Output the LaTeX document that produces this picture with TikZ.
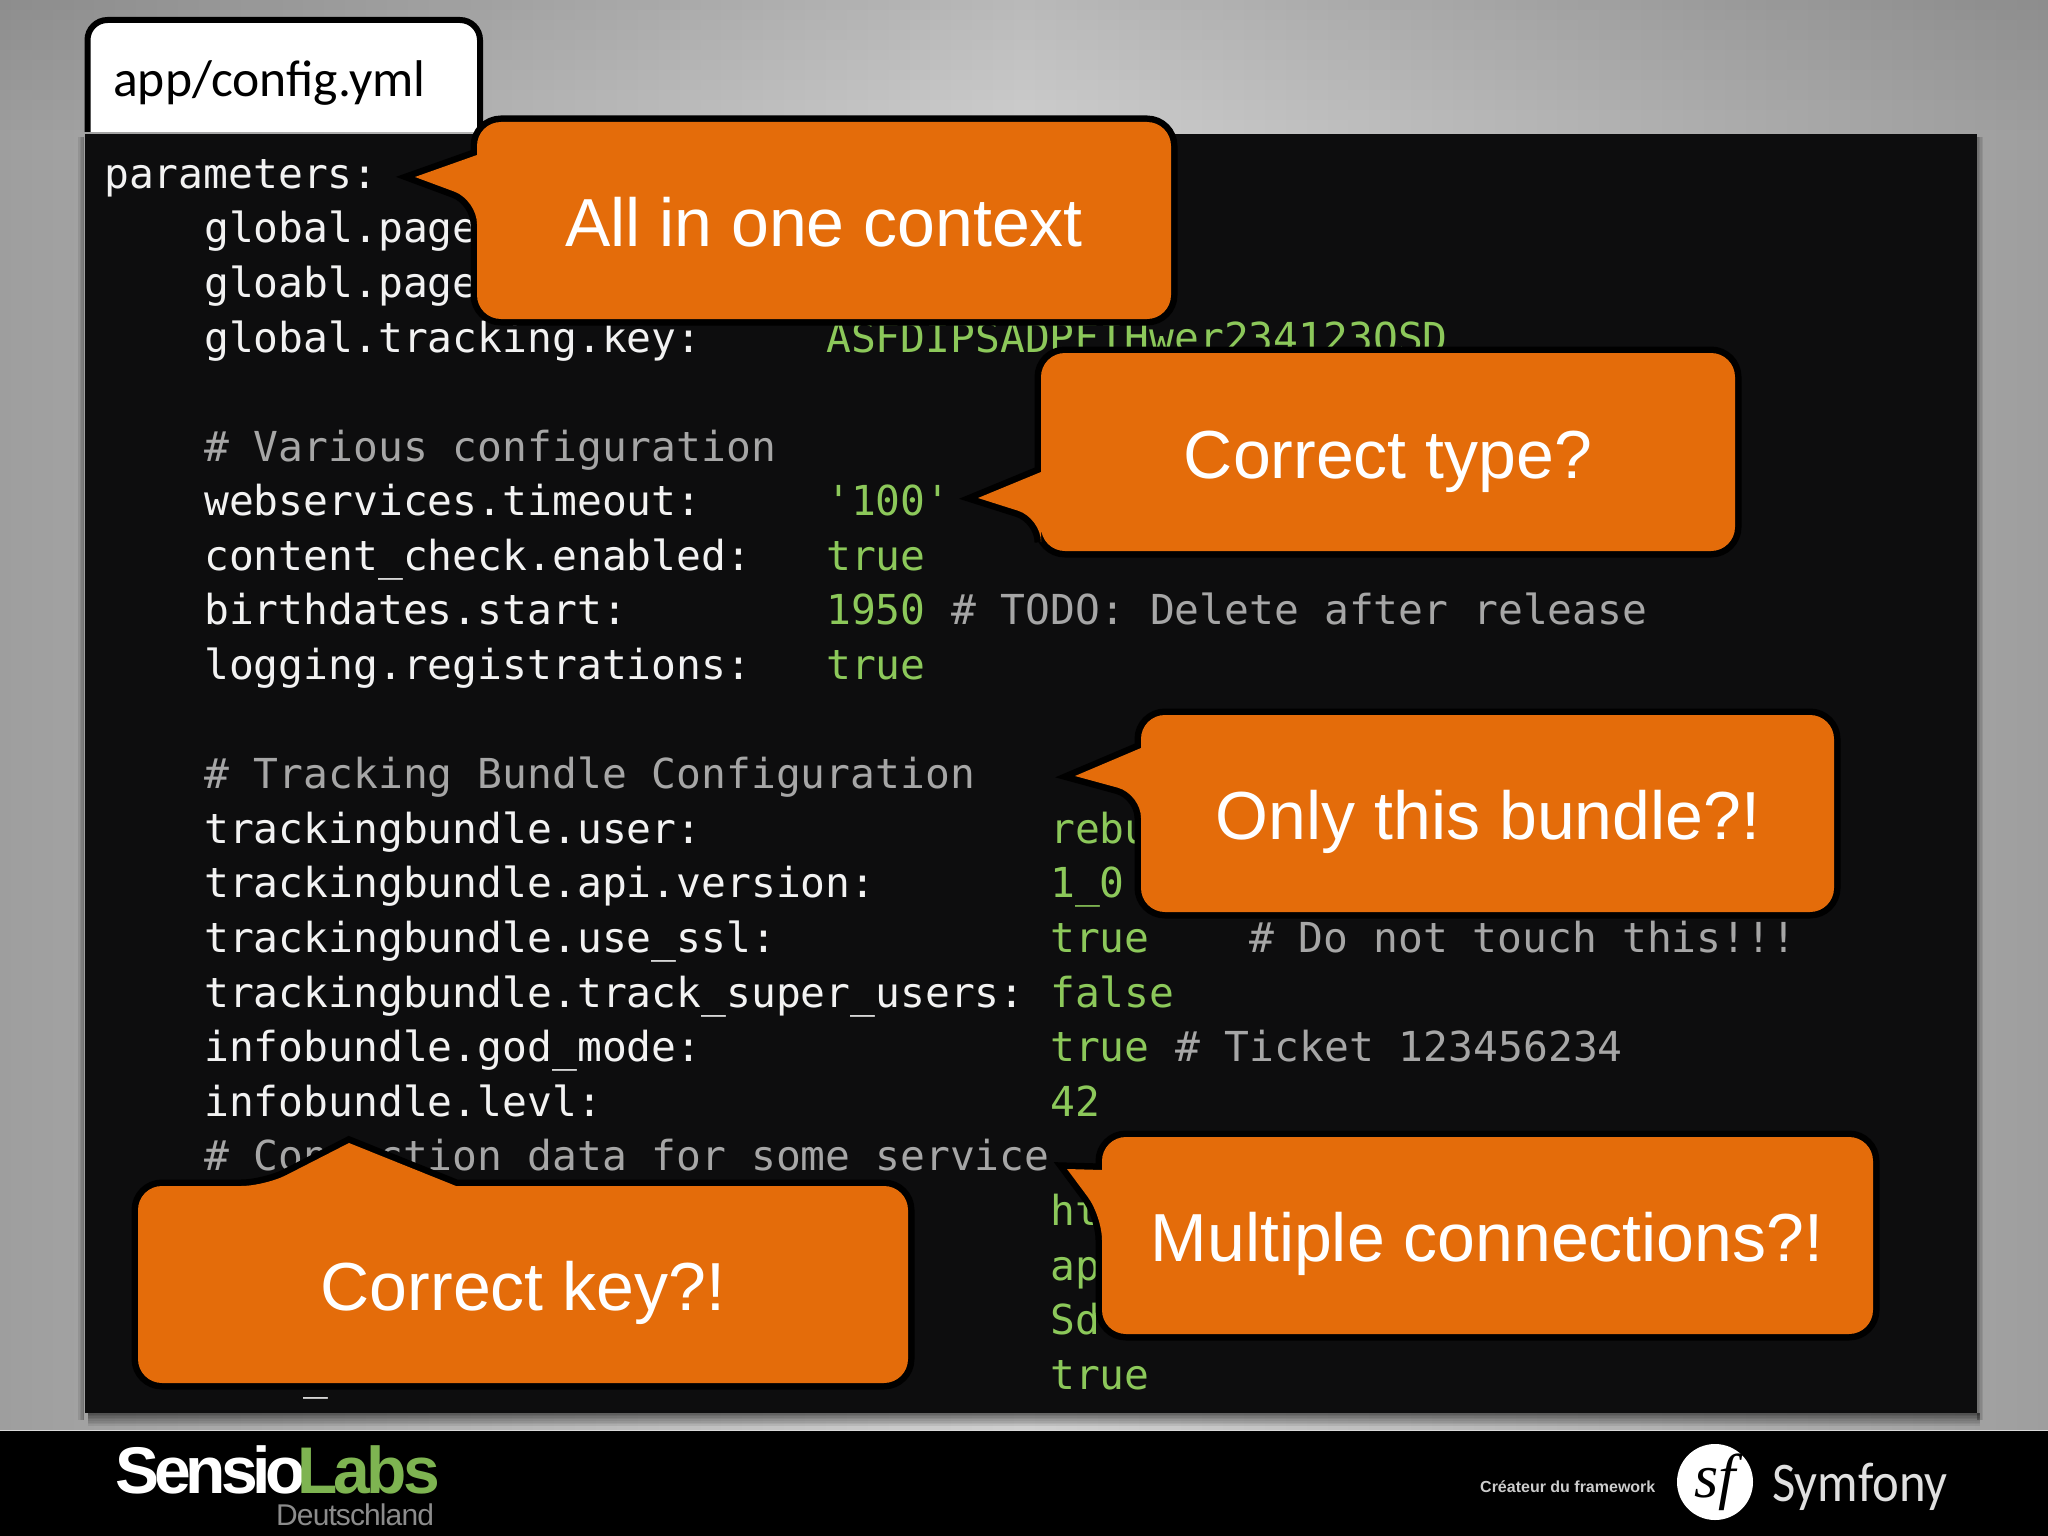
\documentclass[tikz,border=0pt]{standalone}
\usepackage{graphicx}
\usepackage{fontspec}
\setmainfont{Liberation Sans}
\newfontfamily\codefont{DejaVu Sans Mono}
\newfontfamily\calfont{Carlito}
\newfontfamily\sfsym{Liberation Serif}
\definecolor{panelc}{HTML}{0D0D0E}
\definecolor{calloutc}{HTML}{E46C0A}
\definecolor{valc}{HTML}{8CC85A}
\definecolor{cmtc}{HTML}{A6A6A6}
\definecolor{codec}{HTML}{F2F2F2}
\definecolor{bgedge}{HTML}{9E9E9E}
\definecolor{bgmid}{HTML}{CFCFCF}
\newcommand{\codesize}{\fontsize{41.3}{50}\selectfont\codefont}
\tikzset{
  x=1pt,y=-1pt,
  codeline/.style={anchor=base west,inner sep=0pt,text=codec,font=\codesize},
  valline/.style={codeline,text=valc},
  cmtline/.style={codeline,text=cmtc},
  callout/.style={fill=calloutc,line join=round,
    preaction={draw=black,line width=13}},
  callouttext/.style={anchor=base,inner sep=0pt,text=white,font=\fontsize{68}{80}\selectfont},
}
\begin{document}
\begin{tikzpicture}
\useasboundingbox (0,0) rectangle (2048,1536);
\shade[left color=bgedge,right color=bgedge,middle color=bgmid] (0,0) rectangle (2048,1536);
% darker top of the background
\foreach \i in {0,...,12} {
  \fill[black,opacity={0.008*(13-\i)}] (0,{\i*10}) rectangle (2048,{\i*10+10});
}
% panel shadow and panel
\foreach \i in {0,...,7} {
  \fill[black,opacity={0.5-0.06*\i}] (88,{1413+\i*1.6}) rectangle (1980,{1414.6+\i*1.6});
}
\foreach \i in {0,...,3} {
  \fill[black,opacity={0.3-0.07*\i}] ({1977+\i*1.5},137) rectangle ({1978.5+\i*1.5},1420);
  \fill[black,opacity={0.3-0.07*\i}] ({84-\i*1.5},137) rectangle ({82.5-\i*1.5},1420);
}
\fill[panelc] (84.5,134) rectangle (1977,1413);
% tab
\draw[fill=white,draw=black,line width=6,rounded corners=20] (87.5,132) -- (87.5,20) -- (480,20) -- (480,132);
\node[anchor=base west,inner sep=0pt,text=black,font=\fontsize{51.6}{58}\selectfont\calfont] (tabtitle) at (113,97) {app/config.yml};
% code
\node[codeline] (k0) at (104,188) {parameters:};
\node[codeline] (k1) at (204,242.6) {global.page};
\node[codeline] (k2) at (204,297.2) {gloabl.page};
\node[codeline] (k3) at (204,352) {global.tracking.key:};
\node[valline] (v3) at (826,352) {ASFDIPSADPFIHwer234123QSD};
\node[cmtline] (c5) at (204,461) {\# Various configuration};
\node[codeline] (k6) at (204,515.6) {webservices.timeout:};
\node[valline] (v6) at (826,515.6) {'100'};
\node[codeline] (k7) at (204,570.2) {content\_check.enabled:};
\node[valline] (v7) at (826,570.2) {true};
\node[codeline] (k8) at (204,624.8) {birthdates.start:};
\node[valline] (v8) at (826,624.8) {1950};
\node[cmtline] (c8) at (951,624.8) {\# TODO: Delete after release};
\node[codeline] (k9) at (204,679.4) {logging.registrations:};
\node[valline] (v9) at (826,679.4) {true};
\node[cmtline] (c11) at (204,788.6) {\# Tracking Bundle Configuration};
\node[codeline] (k12) at (204,843.2) {trackingbundle.user:};
\node[valline] (v12) at (1050,843.2) {rebu};
\node[codeline] (k13) at (204,897.8) {trackingbundle.api.version:};
\node[valline] (v13) at (1050,897.8) {1\_0};
\node[codeline] (k14) at (204,952.4) {trackingbundle.use\_ssl:};
\node[valline] (v14) at (1050,952.4) {true};
\node[cmtline] (c14) at (1249,952.4) {\# Do not touch this!!!};
\node[codeline] (k15) at (204,1007) {trackingbundle.track\_super\_users:};
\node[valline] (v15) at (1050,1007) {false};
\node[codeline] (k16) at (204,1061.6) {infobundle.god\_mode:};
\node[valline] (v16) at (1050,1061.6) {true};
\node[cmtline] (c16) at (1175,1061.6) {\# Ticket 123456234};
\node[codeline] (k17) at (204,1116.2) {infobundle.levl:};
\node[valline] (v17) at (1050,1116.2) {42};
\node[cmtline] (c18) at (204,1170.8) {\# Connection data for some service};
\node[valline] (v19) at (1050,1225.4) {ht};
\node[valline] (v20) at (1050,1280) {ap};
\node[valline] (v21) at (1050,1334.6) {Sd};
\node[valline] (v22) at (1050,1389.2) {true};
\node[codeline] (u22) at (303,1389.2) {\_};
% callouts
\path[callout,rounded corners=24] (800,122) -- (1171,122) -- (1171,319) -- (477,319) -- (477,200) [sharp corners] -- (415,177) -- (477,155) [rounded corners=24] -- (477,122) -- cycle;
\node[callouttext] (t1) at (824,246) {All in one context};
\path[callout,rounded corners=24] (1400,353) -- (1735,353) -- (1735,551) -- (1041,551) -- (1041,518) [sharp corners] -- (978,498) -- (1041,472) [rounded corners=24] -- (1041,353) -- cycle;
\node[callouttext] (t2) at (1388,478) {Correct type?};
\path[callout,rounded corners=24] (1500,715) -- (1834,715) -- (1834,912) -- (1141,912) -- (1141,794) [sharp corners] -- (1075,776) -- (1141,748) [rounded corners=24] -- (1141,715) -- cycle;
\node[callouttext] (t3) at (1488,839.5) {Only this bundle?!};
\path[callout,rounded corners=24] (1500,1137) -- (1873,1137) -- (1873,1334) -- (1102,1334) -- (1102,1216) [sharp corners] -- (1067,1169) -- (1102,1170) [rounded corners=24] -- (1102,1137) -- cycle;
\node[callouttext] (t4) at (1487,1261) {Multiple connections?!};
\path[callout,rounded corners=24] (600,1186) -- (908,1186) -- (908,1383) -- (138,1383) -- (138,1186) -- (265,1186) [sharp corners] -- (349,1143) -- (456,1186) [rounded corners=24] -- cycle;
\node[callouttext] (t5) at (523,1310) {Correct key?!};
% footer
\fill[black] (0,1431) rectangle (2048,1536);
\draw[black!15,line width=1.5] (0,1430.5) -- (2048,1430.5);
\node[anchor=base west,inner sep=0pt,text=white,font=\fontsize{66}{70}\selectfont\bfseries\addfontfeature{LetterSpace=-7.7}] (sensio) at (115,1493) {Sensio};
\node[anchor=base west,inner sep=0pt,text=valc!90!black,font=\fontsize{66}{70}\selectfont\bfseries\addfontfeature{LetterSpace=-5.8}] (labs) at (297,1493) {Labs};
\node[anchor=base west,inner sep=0pt,text=black!45,font=\fontsize{30}{34}\selectfont\addfontfeature{LetterSpace=-3}] (de) at (276,1525) {Deutschland};
\node[anchor=base west,inner sep=0pt,text=black!20,font=\fontsize{16}{18}\selectfont\bfseries] (createur) at (1480,1492) {Créateur du framework};
\node[circle,fill=white,minimum size=76pt,inner sep=0pt] (logo) at (1715,1482) {};
\node[inner sep=0pt,text=black,font=\fontsize{62}{64}\selectfont\sfsym\itshape] (sf) at (logo.center) {sf};
\node[anchor=base west,inner sep=0pt,text=black!12,font=\fontsize{56}{60}\selectfont\calfont] (symfony) at (1772,1501) {\scalebox{.905}[1]{Symfony}};
\end{tikzpicture}
\end{document}
